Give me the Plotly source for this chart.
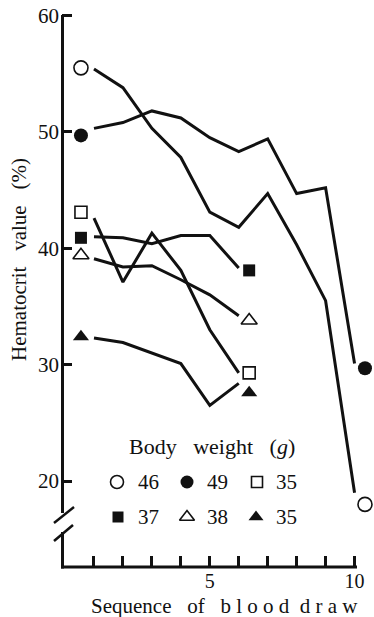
import plotly.graph_objects as go

# ---------------- data ----------------
series_names = ["46", "49", "35", "37", "38", "35"]
draws_46 = [1, 2, 3, 4, 5, 6, 7, 8, 9, 10]
hct_46 = [55.4, 53.8, 50.3, 47.8, 43.1, 41.8, 44.7, 40.3, 35.5, 19.0]
draws_49 = [1, 2, 3, 4, 5, 6, 7, 8, 9, 10]
hct_49 = [50.3, 50.8, 51.8, 51.2, 49.5, 48.3, 49.4, 44.7, 45.2, 30.1]
draws_35a = [1, 2, 3, 4, 5, 6]
hct_35a = [42.6, 37.1, 41.3, 38.1, 33.0, 29.3]
draws_37 = [1, 2, 3, 4, 5, 6]
hct_37 = [41.0, 40.9, 40.4, 41.1, 41.1, 38.3]
draws_38 = [1, 2, 3, 4, 5, 6]
hct_38 = [39.1, 38.4, 38.5, 37.3, 36.0, 34.2]
draws_35b = [1, 2, 4, 5, 6]
hct_35b = [32.3, 31.9, 30.1, 26.5, 28.4]

# end-point markers (value at first and last draw, as drawn beside the line ends)
start_marker = [55.5, 49.7, 43.1, 40.9, 39.4, 32.4]
end_marker = [18.0, 29.7, 29.3, 38.1, 33.8, 27.6]

y_tick_vals = [20, 30, 40, 50, 60]
x_tick_vals = [1, 2, 3, 4, 5, 6, 7, 8, 9, 10]
x_tick_text = ["", "", "", "", "5", "", "", "", "", "10"]

SP3 = "\u00a0\u00a0\u00a0"
legend_title = "Body" + SP3 + "weight" + SP3 + "(<i>g</i>)"
y_title = "Hematocrit" + SP3 + "value" + SP3 + "(%)"
x_title = "Sequence" + SP3 + "of" + SP3 + "b l o o d" + "\u00a0\u00a0" + "d r a w"

# ---------------- layout helpers ----------------
W, H = 374, 617
L, R, T, B = 62, 5, 0, 50
PW, PH = W - L - R, H - T - B
XR = [-0.105, 10.499]
YR = [12.62, 61.33]


def px_x(px):
    return (px - L) / PW


def px_y(py):
    return (H - B - py) / PH


def dx(px):
    return XR[0] + (px - L) / PW * (XR[1] - XR[0])


def dy(py):
    return YR[1] - (py - T) / PH * (YR[1] - YR[0])


FONT = "Liberation Serif"
BLACK = "#111111"

styles = [
    dict(symbol="circle", size=14, color="white", line=dict(width=1.6, color=BLACK)),
    dict(symbol="circle", size=14, color=BLACK, line=dict(width=0)),
    dict(symbol="square", size=12, color="white", line=dict(width=1.6, color=BLACK)),
    dict(symbol="square", size=12, color=BLACK, line=dict(width=0)),
    dict(symbol="triangle-up", size=14, color="white", line=dict(width=1.6, color=BLACK)),
    dict(symbol="triangle-up", size=14, color=BLACK, line=dict(width=0)),
]

all_draws = [draws_46, draws_49, draws_35a, draws_37, draws_38, draws_35b]
all_hct = [hct_46, hct_49, hct_35a, hct_37, hct_38, hct_35b]

fig = go.Figure()

for i, (xs, ys) in enumerate(zip(all_draws, all_hct)):
    fig.add_trace(go.Scatter(x=xs, y=ys, mode="lines",
                             line=dict(color=BLACK, width=3),
                             showlegend=False, hoverinfo="skip"))
    fig.add_trace(go.Scatter(x=[xs[0] - 0.45, xs[-1] + 0.36],
                             y=[start_marker[i], end_marker[i]],
                             mode="markers", marker=styles[i],
                             cliponaxis=False, showlegend=False,
                             name=series_names[i]))

# legend key (custom, in the plot area)
key_px = [(117, 482), (187, 482), (257, 482), (118, 517), (187, 517), (256, 517)]
for i, (kx, ky) in enumerate(key_px):
    st = dict(styles[i])
    st["size"] = st["size"] - 1
    fig.add_trace(go.Scatter(x=[dx(kx)], y=[dy(ky)], mode="markers", marker=st,
                             showlegend=False, hoverinfo="skip", cliponaxis=False))

annotations = []
label_px = [(136, 482), (205, 482), (274, 482), (136, 517), (205, 517), (274, 517)]
for i, (lx, ly) in enumerate(label_px):
    annotations.append(dict(x=px_x(lx), y=px_y(ly), xref="paper", yref="paper",
                            text=series_names[i], showarrow=False,
                            xanchor="left", yanchor="middle",
                            font=dict(family=FONT, size=21, color=BLACK)))
annotations.append(dict(x=px_x(212), y=px_y(446), xref="paper", yref="paper",
                        text=legend_title, showarrow=False,
                        xanchor="center", yanchor="middle",
                        font=dict(family=FONT, size=22, color=BLACK)))
# axis titles
annotations.append(dict(x=px_x(19), y=px_y(260), xref="paper", yref="paper",
                        text=y_title, textangle=-90,
                        showarrow=False, xanchor="center", yanchor="middle",
                        font=dict(family=FONT, size=21, color=BLACK)))
annotations.append(dict(x=px_x(224), y=px_y(606), xref="paper", yref="paper",
                        text=x_title,
                        showarrow=False, xanchor="center", yanchor="middle",
                        font=dict(family=FONT, size=21, color=BLACK)))

# axis lines with break
shapes = []


def seg(x0, y0, x1, y1, w=3):
    shapes.append(dict(type="line", xref="paper", yref="paper",
                       x0=px_x(x0), y0=px_y(y0), x1=px_x(x1), y1=px_y(y1),
                       line=dict(color=BLACK, width=w)))


seg(62.5, 15, 62.5, 513)
seg(62.5, 532, 62.5, 568.5)
seg(54, 523, 74, 507, 2.5)
seg(54, 541, 73, 525, 2.5)
seg(61, 567, 357, 567)

fig.update_layout(
    width=W, height=H,
    margin=dict(l=L, r=R, t=T, b=B, pad=0),
    paper_bgcolor="white", plot_bgcolor="white",
    showlegend=False,
    annotations=annotations,
    shapes=shapes,
    xaxis=dict(range=XR, showgrid=False, zeroline=False, showline=False,
               tickmode="array", tickvals=x_tick_vals, ticktext=x_tick_text,
               ticks="inside", ticklen=11, tickwidth=2.5, tickcolor=BLACK,
               tickfont=dict(family=FONT, size=20, color=BLACK),
               ticklabelstandoff=0, fixedrange=True),
    yaxis=dict(range=YR, showgrid=False, zeroline=False, showline=False,
               tickmode="array", tickvals=y_tick_vals,
               ticks="inside", ticklen=10, tickwidth=2.5, tickcolor=BLACK,
               tickfont=dict(family=FONT, size=21, color=BLACK),
               ticklabelstandoff=2, fixedrange=True),
)

fig.write_html("out.html")
